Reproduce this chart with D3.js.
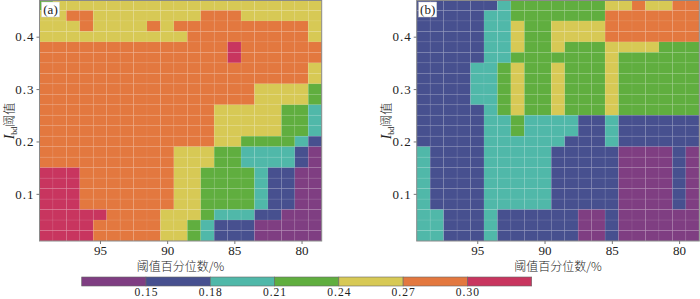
<!DOCTYPE html>
<html>
<head>
<meta charset="utf-8">
<script src="https://cdn.jsdelivr.net/npm/d3@7"></script>
<style>
  body { margin: 0; background: #fff; }
  svg text { font-family: 'Liberation Serif', 'DejaVu Serif', serif; fill: #222; }
  svg text.cjk, svg tspan.cjk { font-family: 'Noto Sans CJK SC', sans-serif; }
</style>
</head>
<body>
<svg id="chart" width="700" height="299"></svg>
<script>
// percentile thresholds (columns, left to right) and I thresholds (rows, top to bottom)
var percentiles = d3.range(99, 78, -1);
var ithresholds = d3.range(46, 0, -2).map(function(d) { return d / 100; });

// class of each cell: 1 <0.15, 2 0.15-0.18, 3 0.18-0.21, 4 0.21-0.24, 5 0.24-0.27, 6 0.27-0.30, 7 >0.30
var gridA = [
  "455555555555555555555",
  "556655555555666555555",
  "555655556566666666665",
  "555555555556666666665",
  "666666666666667666666",
  "666666666666667666666",
  "666666666666666666665",
  "666666666666666666665",
  "666666666666666655554",
  "666666666666666655554",
  "666666666666655555443",
  "666666666666655555443",
  "666666666666655555443",
  "666666666666655444432",
  "666666666655544333321",
  "666666666655544333321",
  "777666666655444432211",
  "777666666655444432211",
  "777666666655444432211",
  "777666666655444432211",
  "777776666555433322111",
  "777766666554322211111",
  "777766666554322211111"
];
var gridB = [
  "222222344444445565566",
  "222223344444446666666",
  "222223354455556666666",
  "222223354455556666666",
  "222223354454445555444",
  "222223344444445444444",
  "222233454454445444444",
  "222233454454445444444",
  "222233454454445444444",
  "222233454454445444444",
  "222223454454445444444",
  "222223343333223222222",
  "222223343333223222222",
  "222223333332223222222",
  "322223333322222111121",
  "322223333322222111121",
  "322223333322222111121",
  "322223333322222111121",
  "322223333322222111121",
  "322223333322222111121",
  "332223222222112111111",
  "332223222222112111111",
  "332223222222112111111"
];

var binValues = [0.135, 0.165, 0.195, 0.225, 0.255, 0.285, 0.315];
var breaks = [0.15, 0.18, 0.21, 0.24, 0.27, 0.30];
var colors = ["#7f3e82", "#47508f", "#50b8a9", "#60ae3f", "#d7c955", "#e3783f", "#c8355f"];

var color = d3.scaleThreshold().domain(breaks).range(colors);

var svg = d3.select("#chart");
var serif = "'Liberation Serif', 'DejaVu Serif', serif";

function toCells(grid) {
  var cells = [];
  grid.forEach(function(row, j) {
    row.split("").forEach(function(c, i) {
      cells.push({ p: percentiles[i], t: ithresholds[j], v: binValues[+c - 1] });
    });
  });
  return cells;
}

function panel(grid, left, right, tag, labelX) {
  var x = d3.scaleLinear().domain([99.5, 78.5]).range([left, right]);
  var y = d3.scaleLinear().domain([0.01, 0.47]).range([241, 0]);
  var g = svg.append("g");

  g.selectAll("rect.cell")
    .data(toCells(grid))
    .enter().append("rect")
    .attr("class", "cell")
    .attr("x", function(d) { return x(d.p + 0.5); })
    .attr("y", function(d) { return y(d.t + 0.01); })
    .attr("width", function(d) { return x(d.p - 0.5) - x(d.p + 0.5); })
    .attr("height", function(d) { return y(d.t - 0.01) - y(d.t + 0.01); })
    .attr("fill", function(d) { return color(d.v); })
    .attr("stroke", "rgba(255,255,255,0.07)")
    .attr("stroke-width", 0.8);

  g.append("rect")
    .attr("x", left).attr("y", 0.5)
    .attr("width", right - left).attr("height", 240.5)
    .attr("fill", "none").attr("stroke", "#8a8a8a").attr("stroke-width", 1);

  var xa = g.append("g")
    .attr("transform", "translate(0,241)")
    .attr("font-family", serif)
    .call(d3.axisBottom(x).tickValues([95, 90, 85, 80]).tickSize(3).tickPadding(2));
  xa.attr("font-family", serif).attr("font-size", 13);
  xa.select(".domain").remove();
  xa.selectAll("line").attr("stroke", "#777");
  xa.selectAll("text").attr("fill", "#222");

  var ya = g.append("g")
    .attr("transform", "translate(" + left + ",0)")
    .call(d3.axisLeft(y).tickValues([0.1, 0.2, 0.3, 0.4]).tickFormat(d3.format(".1f")).tickSize(3).tickPadding(2));
  ya.attr("font-family", serif).attr("font-size", 13);
  ya.select(".domain").remove();
  ya.selectAll("line").attr("stroke", "#777");
  ya.selectAll("text").attr("fill", "#222").attr("letter-spacing", "1px");

  g.append("text")
    .attr("class", "cjk")
    .attr("x", (left + right) / 2)
    .attr("y", 271)
    .attr("text-anchor", "middle")
    .style("font-size", "12px")
    .style("font-weight", 300)
    .text("阈值百分位数/%");

  var yl = g.append("text")
    .attr("transform", "translate(" + labelX + ",121) rotate(-90)")
    .attr("text-anchor", "middle")
    .style("font-size", "12px");
  yl.append("tspan").style("font-style", "italic").style("font-size", "14px").text("I");
  yl.append("tspan").attr("dy", 3).style("font-size", "8px").text("bd");
  yl.append("tspan").attr("dy", -3).attr("class", "cjk").style("font-weight", 300).text("阈值");

  g.append("rect")
    .attr("x", left + 2).attr("y", 2)
    .attr("width", 18).attr("height", 15)
    .attr("fill", "#fff").attr("stroke", "#ccc").attr("stroke-width", 0.5);
  g.append("text")
    .attr("x", left + 11).attr("y", 14)
    .attr("text-anchor", "middle")
    .style("font-size", "13px")
    .text(tag);
}

panel(gridA, 39.5, 321.7, "(a)", 14);
panel(gridB, 416.7, 699.3, "(b)", 391);

// colour bar
var cb = d3.scaleLinear().domain([0.12, 0.33]).range([81.7, 531.7]);
var edges = [0.12].concat(breaks).concat([0.33]);
var cbg = svg.append("g");
cbg.selectAll("rect")
  .data(colors)
  .enter().append("rect")
  .attr("x", function(d, i) { return cb(edges[i]); })
  .attr("y", 277)
  .attr("width", function(d, i) { return cb(edges[i + 1]) - cb(edges[i]); })
  .attr("height", 9)
  .attr("fill", function(d) { return d; })
  .attr("stroke", "#666")
  .attr("stroke-width", 0.6);

var cba = cbg.append("g")
  .attr("transform", "translate(0,286)")
  .call(d3.axisBottom(cb).tickValues(breaks).tickFormat(d3.format(".2f")).tickSize(0).tickPadding(2));
cba.attr("font-family", serif).attr("font-size", 11.5);
cba.select(".domain").remove();
cba.selectAll("text").attr("fill", "#222").attr("letter-spacing", "1px");
</script>
</body>
</html>
